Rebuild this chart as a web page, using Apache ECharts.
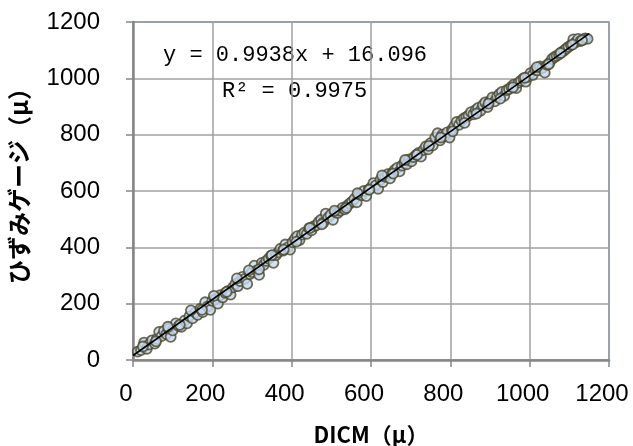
<!DOCTYPE html>
<html>
<head>
<meta charset="utf-8">
<script src="https://cdn.jsdelivr.net/npm/echarts@6/dist/echarts.min.js"></script>
<style>
  html, body { margin: 0; padding: 0; background: #fff; }
  #chart { width: 633px; height: 446px; }
</style>
</head>
<body>
<div id="chart"></div>
<script>
// DICM vs strain gauge
const dicmX = [0, 12, 20, 28, 35, 40, 48, 55, 60, 66, 72, 78, 84, 90, 95, 100, 108, 115, 122, 130,
    136, 142, 150, 157, 163, 170, 176, 182, 188, 195, 200, 207, 214, 220, 226, 233, 240, 246, 252, 258,
    264, 270, 276, 282, 288, 295, 300, 306, 312, 318, 325, 330, 336, 342, 348, 354, 360, 366, 372, 378,
    384, 390, 396, 402, 408, 414, 420, 426, 432, 438, 444, 450, 456, 462, 468, 474, 480, 486, 492, 498,
    504, 510, 516, 522, 528, 534, 540, 546, 552, 558, 564, 570, 576, 582, 588, 594, 600, 606, 612, 618,
    624, 630, 636, 642, 648, 654, 660, 666, 672, 678, 684, 690, 696, 702, 708, 714, 720, 726, 732, 738,
    744, 750, 756, 762, 768, 774, 780, 786, 792, 798, 804, 810, 816, 822, 828, 834, 840, 846, 852, 858,
    864, 870, 876, 882, 888, 894, 900, 906, 912, 918, 924, 930, 936, 942, 948, 954, 960, 966, 972, 978,
    984, 990, 996, 1002, 1008, 1014, 1020, 1026, 1032, 1038, 1044, 1050, 1056, 1062, 1068, 1074, 1080, 1086, 1092, 1098,
    1104, 1110, 1116, 1122, 1128, 1134, 1140, 1146,
    25, 58, 88, 118, 146, 174, 204, 236, 262, 292, 318, 350, 380, 412, 446, 476, 508, 538, 566, 596,
    628, 656, 686, 716, 746, 776, 806, 836, 866, 896, 926, 958, 988, 1018, 1048, 1078, 1108, 1132];
const gaugeY = [-3, 30, 35, 62, 40, 55, 70, 58, 75, 100, 85, 103, 92, 110, 82, 105, 130, 120, 118, 140,
    130, 155, 148, 168, 160, 182, 170, 205, 190, 178, 210, 215, 200, 230, 222, 238, 245, 232, 258, 270,
    262, 280, 295, 288, 270, 305, 312, 335, 318, 302, 345, 338, 352, 360, 370, 345, 372, 382, 395, 388,
    410, 400, 392, 418, 430, 440, 426, 445, 452, 448, 468, 460, 475, 478, 490, 498, 488, 520, 505, 515,
    498, 525, 522, 530, 540, 535, 548, 555, 562, 572, 560, 588, 585, 600, 582, 605, 612, 628, 620, 608,
    640, 632, 650, 660, 645, 665, 675, 682, 670, 690, 700, 695, 712, 705, 720, 728, 735, 722, 745, 758,
    748, 770, 762, 790, 805, 780, 800, 795, 808, 790, 818, 830, 845, 835, 850, 858, 862, 868, 880, 872,
    888, 895, 885, 905, 915, 898, 920, 932, 918, 935, 945, 952, 938, 958, 962, 970, 978, 965, 985, 992,
    1000, 988, 1005, 1018, 1012, 1030, 1028, 1042, 1036, 1020, 1048, 1055, 1068, 1075, 1080, 1085, 1092, 1098, 1105, 1112,
    1118, 1138, 1128, 1140, 1132, 1138, 1142, 1140,
    48, 66, 118, 125, 176, 178, 228, 242, 290, 318, 322, 372, 392, 420, 468, 482, 530, 540, 592, 605,
    655, 662, 710, 728, 760, 790, 812, 842, 875, 910, 928, 968, 1002, 1040, 1050, 1090, 1120, 1135];

// trendline end points (y = 0.9938x + 16.096)
const trendX = [0, 1150];
const trendY = [16, 1159];

const axisTicks = [0, 200, 400, 600, 800, 1000, 1200];
const eqText = 'y = 0.9938x + 16.096';
const r2Text = 'R² = 0.9975';
const xName = 'DICM（μ）';
const yName = 'ひずみゲージ（μ）';

var points = dicmX.map((x, i) => [x, gaugeY[i]]);
var trend = trendX.map((x, i) => [x, trendY[i]]);

var labelFont = "'Liberation Sans Narrow', 'Liberation Sans', sans-serif";

var chart = echarts.init(document.getElementById('chart'));

function valueAxis(isX) {
    return {
        type: 'value',
        min: axisTicks[0],
        max: axisTicks[axisTicks.length - 1],
        interval: axisTicks[1] - axisTicks[0],
        axisLine: { show: true, onZero: false, lineStyle: { color: '#868686', width: 2.5 } },
        axisTick: { show: true, inside: false, length: 7, lineStyle: { color: '#868686', width: 1.5 } },
        splitLine: { show: true, lineStyle: { color: '#a0a0a0', width: 1.5 } },
        axisLabel: isX ? {
            color: '#000', fontSize: 24, fontFamily: labelFont, margin: 22,
            padding: [0, 14, 0, 0],
            formatter: (v) => String(v)
        } : {
            color: '#000', fontSize: 24, fontFamily: labelFont, margin: 33,
            formatter: (v) => String(v)
        }
    };
}

chart.setOption({
    backgroundColor: '#fff',
    animation: false,
    grid: {
        left: 133, right: 24, top: 22, bottom: 86,
        show: true, borderColor: '#5b87c2', borderWidth: 1.5, backgroundColor: '#fff'
    },
    xAxis: valueAxis(true),
    yAxis: valueAxis(false),
    series: [{
        type: 'scatter',
        data: points,
        symbol: 'circle',
        symbolSize: 10,
        itemStyle: { color: '#c6d9f1', borderColor: '#4a4629', borderWidth: 1.8 },
        z: 2
    }, {
        type: 'line',
        data: trend,
        symbol: 'none',
        lineStyle: { color: '#000', width: 1.6 },
        z: 3
    }],
    graphic: [{
        type: 'text', left: 163, top: 44,
        style: { text: eqText, fill: '#000', font: "22px 'Liberation Mono', 'DejaVu Sans Mono', monospace" }
    }, {
        type: 'text', left: 222, top: 80,
        style: { text: r2Text, fill: '#000', font: "22px 'Liberation Mono', 'DejaVu Sans Mono', monospace" }
    }, {
        type: 'text', x: 371, y: 435,
        style: { text: xName, fill: '#000', font: "bold 22px 'Noto Sans CJK JP', sans-serif",
            textAlign: 'center', textVerticalAlign: 'middle' }
    }, {
        type: 'text', x: 19, y: 180, rotation: Math.PI / 2,
        style: { text: yName, fill: '#000', font: "bold 24px 'Noto Sans CJK JP', sans-serif",
            textAlign: 'center', textVerticalAlign: 'middle' }
    }]
});
</script>
</body>
</html>
